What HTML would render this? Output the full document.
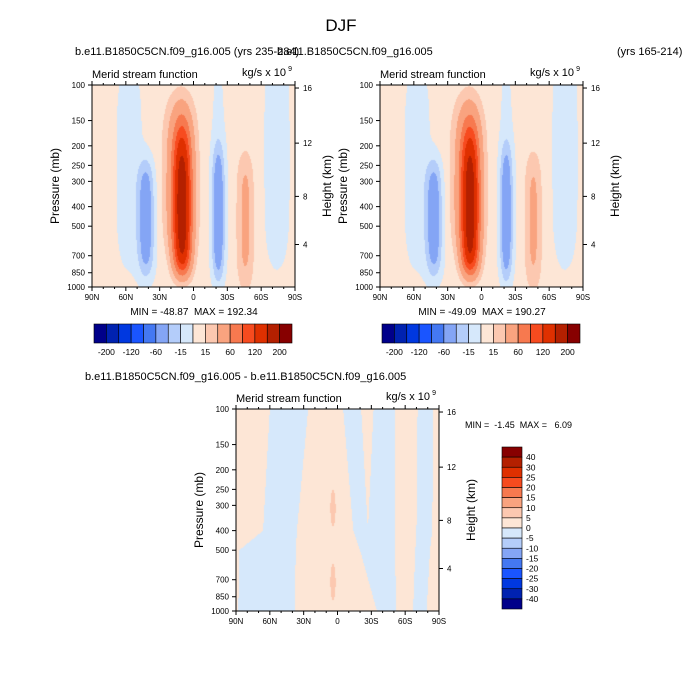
<!DOCTYPE html>
<html><head><meta charset="utf-8"><style>
body{margin:0;background:#fff;width:682px;height:698px;overflow:hidden;position:relative;font-family:"Liberation Sans",sans-serif}
canvas{position:absolute}
svg{position:absolute;left:0;top:0}
text{white-space:pre}
</style></head><body>
<canvas id="c1" width="203" height="202" style="left:92px;top:85px"></canvas>
<canvas id="c2" width="203" height="202" style="left:380px;top:85px"></canvas>
<canvas id="c3" width="203" height="202" style="left:236px;top:409px"></canvas>
<svg id="s" width="682" height="698"></svg>
<script>
// ---- data ----
const palette = ["#00008a","#0022b0","#0038e0","#1a55ff","#4478f2","#84a5f5","#b4cdfa","#d6e8fb","#fde6d6","#fcc8b0","#f9a37f","#f7794f","#f74b1f","#df3000","#b42000","#870000"];
const levelsTop = [-200,-160,-120,-90,-60,-30,-15,0,15,30,60,90,120,160,200];
const cbTopLabels = ["-200","-120","-60","-15","15","60","120","200"];
const levelsDiff = [-40,-30,-25,-20,-15,-10,-5,0,5,10,15,20,25,30,40];
const cbDiffLabels = ["40","30","25","20","15","10","5","0","-5","-10","-15","-20","-25","-30","-40"];
const latTicks = [90,60,30,0,-30,-60,-90];
const latTickLabels = ["90N","60N","30N","0","30S","60S","90S"];
const presTicks = [100,150,200,250,300,400,500,700,850,1000];
const heightTicks = [16,12,8,4];
const heightPres = [103.5,194,356,616];
// circulation cells (left panel amps / right panel amps)
const cellLat = [10,12,42,-22,-46,57,-22,-74];
const cellPres = [525,300,460,460,470,280,320,250];
const cellAmp = [150,45,-49,-48,30,-13,-10,-13];
const cellAmp2 = [148,45,-49,-47,29,-13,-10,-13];
const cellLatW = [5.5,9,5.2,3.9,5.1,9,5,9];
const cellPresUpW = [0.5,0.4,0.29,0.36,0.33,0.6,0.7,0.7];
const cellPresDownW = [0.22,0.35,0.29,0.31,0.33,0.5,0.45,0.55];
const background = 6;
// diff strips: boundaries (north->south) at control pressures
const ctrlPres = [100,400,500,1000];
const stripBounds = [[60,66,87,88],[26,36,37,38],[-5,-14,-20,-35],[-21,-27,-27,-40],[-32,-27,-27,-40],[-51,-51,-51,-52],[-71,-70,-69,-67],[-85,-84,-82,-79]];
const stripVals = [3,-2,3,-2,3,-2,3,-2,3];
const blobLat = [4,4], blobPres = [310,720], blobVal = [6,6], blobLatW=[2.3,2.3], blobPresW=[0.09,0.09];

function hex(c){return [parseInt(c.substr(1,2),16),parseInt(c.substr(3,2),16),parseInt(c.substr(5,2),16)];}
function colorFor(v,levels){let i=0;while(i<levels.length&&v>=levels[i])i++;return palette[i];}
function fieldTop(lat,lp,amps){let v=background;for(let i=0;i<cellLat.length;i++){const dl=lat-cellLat[i],dp=lp-Math.log10(cellPres[i]);const w=dp<0?cellPresUpW[i]:cellPresDownW[i];const r=dp/w;v+=amps[i]*Math.exp(-dl*dl/(2*cellLatW[i]**2)-r*r*r*r);}return v;}
function interpB(b,lp){const cl=ctrlPres.map(Math.log10);for(let i=0;i<cl.length-1;i++){if(lp<=cl[i+1]){const t=(lp-cl[i])/(cl[i+1]-cl[i]);return b[i]+t*(b[i+1]-b[i]);}}return b[b.length-1];}
function fieldDiff(lat,lp){for(let i=0;i<blobLat.length;i++){const dl=(lat-blobLat[i])/blobLatW[i],dp=(lp-Math.log10(blobPres[i]))/blobPresW[i];if(dl*dl+dp*dp<1)return blobVal[i];}
 let k=0;for(const b of stripBounds){if(lat<interpB(b,lp))k++;else break;}return stripVals[k];}
function render(id,fn,levels){const c=document.getElementById(id),ctx=c.getContext('2d'),W=c.width,H=c.height,img=ctx.createImageData(W,H);
 for(let y=0;y<H;y++){const lp=2+(y+0.5)/H;for(let x=0;x<W;x++){const lat=90-(x+0.5)/W*180;const rgb=hex(colorFor(fn(lat,lp),levels));const o=(y*W+x)*4;img.data[o]=rgb[0];img.data[o+1]=rgb[1];img.data[o+2]=rgb[2];img.data[o+3]=255;}}
 ctx.putImageData(img,0,0);}
render('c1',(a,b)=>fieldTop(a,b,cellAmp),levelsTop);
render('c2',(a,b)=>fieldTop(a,b,cellAmp2),levelsTop);
render('c3',fieldDiff,levelsDiff);

const S=document.getElementById('s');const NS="http://www.w3.org/2000/svg";
function el(tag,attrs,parent){const e=document.createElementNS(NS,tag);for(const k in attrs)e.setAttribute(k,attrs[k]);(parent||S).appendChild(e);return e;}
function txt(x,y,s,size,anchor,name,extra){const t=el('text',Object.assign({x:x,y:y,'font-size':size,'text-anchor':anchor||'start','font-family':'Liberation Sans, sans-serif'},extra||{}));t.textContent=s;


return t;}

function panel(fx,fy,W,H,pfx,xlabels){
 const g=el('g',{});
 
 
 const ys=p=>fy+H*(Math.log10(p)-2), xs=l=>fx+(90-l)/180*W;
 el('rect',{x:fx,y:fy,width:W,height:H,fill:'none',stroke:'#000','stroke-width':1},g);
 presTicks.forEach(p=>{el('line',{x1:fx-4,x2:fx,y1:ys(p),y2:ys(p),stroke:'#000'},g);
  txt(fx-7,ys(p)+3,String(p),8,'end',pfx+'-pressure-tick-'+p);});
 heightTicks.forEach((h,i)=>{const y=ys(heightPres[i]);el('line',{x1:fx+W,x2:fx+W+4,y1:y,y2:y,stroke:'#000'},g);
  txt(fx+W+8,y+3,String(h),8,'start',pfx+'-height-tick-'+h);});
 for(let l=90;l>=-90;l-=10){const x=xs(l),len=(l%30===0)?4:2;
  el('line',{x1:x,x2:x,y1:fy+H,y2:fy+H+len,stroke:'#000'},g);el('line',{x1:x,x2:x,y1:fy,y2:fy-len,stroke:'#000'},g);}
 if(xlabels)latTicks.forEach((l,i)=>txt(xs(l),fy+H+13,latTickLabels[i],8,'middle',pfx+'-lat-tick-'+latTickLabels[i]));
 txt(fx,fy-7,'Merid stream function',11,'start',pfx+'-plot-title');
 txt(fx+W-9,fy-9,'kg/s x 10',11,'end',pfx+'-units');
 txt(fx+W-3,fy-14,'9',7,'end',pfx+'-units-exponent');
 txt(0,0,'Pressure (mb)',12,'middle',pfx+'-y-axis-title',{transform:`translate(${fx-33},${fy+H/2}) rotate(-90)`});
 txt(0,0,'Height (km)',12,'middle',pfx+'-right-axis-title',{transform:`translate(${fx+W+36},${fy+H/2}) rotate(-90)`});
}
function hbar(x,y,w,h,pfx){const bw=w/16;palette.forEach((c,i)=>{const r=el('rect',{x:x+i*bw,y:y,width:bw,height:h,fill:c,stroke:'#000','stroke-width':0.6});
 
 });
 cbTopLabels.forEach((s,i)=>txt(x+(2*i+1)*bw,y+h+12,s,8.5,'middle',pfx+'-colorbar-label'));}
function vbar(x,y,w,h){const bh=h/16;palette.slice().reverse().forEach((c,i)=>{const r=el('rect',{x:x,y:y+i*bh,width:w,height:bh,fill:c,stroke:'#000','stroke-width':0.6});
 
 });
 cbDiffLabels.forEach((s,i)=>txt(x+w+4,y+(i+1)*bh+3,s,8.5,'start','diff-colorbar-label'));}

txt(341,31,'DJF',17,'middle','main-title');
txt(75,55,'b.e11.B1850C5CN.f09_g16.005 (yrs 235-284)',11,'start','left-subtitle');
txt(277,55,'b.e11.B1850C5CN.f09_g16.005',11,'start','right-subtitle');
txt(617,55,'(yrs 165-214)',11,'start','right-subtitle-years');
panel(92,85,203,202,'left',true);
panel(380,85,203,202,'right',true);
panel(236,409,203,202,'diff',true);
txt(194,315,'MIN = -48.87  MAX = 192.34',10,'middle','left-min-max');
txt(482,315,'MIN = -49.09  MAX = 190.27',10,'middle','right-min-max');
hbar(94,324,198,19,'left');
hbar(382,324,198,19,'right');
txt(85,380,'b.e11.B1850C5CN.f09_g16.005 - b.e11.B1850C5CN.f09_g16.005',11,'start','diff-subtitle');
txt(465,428,'MIN =  -1.45  MAX =   6.09',9,'start','diff-min-max');
vbar(502,447,20,162);
</script>
</body></html>
